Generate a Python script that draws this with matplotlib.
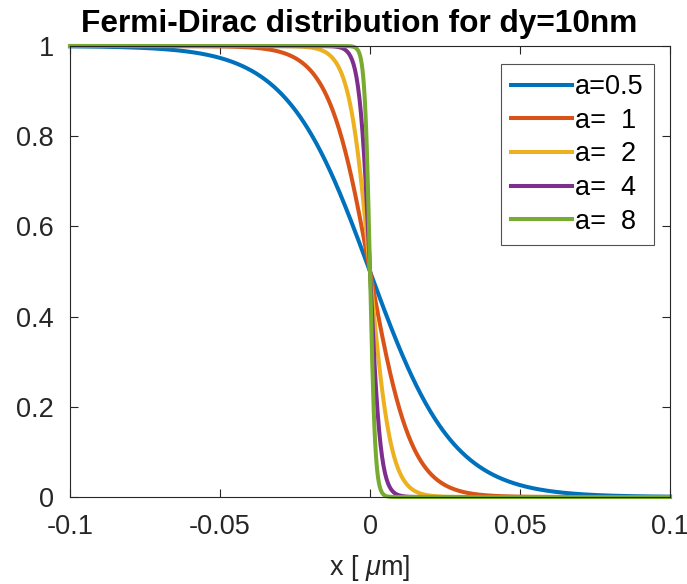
import matplotlib
matplotlib.use("Agg")
import matplotlib.pyplot as plt
import numpy as np

plt.rcParams['font.family'] = ['Liberation Sans', 'DejaVu Sans']
plt.rcParams['axes.unicode_minus'] = False
plt.rcParams['mathtext.fontset'] = 'custom'
plt.rcParams['mathtext.it'] = 'Liberation Sans:italic'
plt.rcParams['mathtext.rm'] = 'Liberation Sans'

# Fermi-Dirac step 1/(1+exp(a*x/(dy*ln2))) for several steepness values
dy = 0.01  # um (10 nm)
a_values = [0.5, 1, 2, 4, 8]
labels = ['a=0.5', 'a=  1', 'a=  2', 'a=  4', 'a=  8']
colors = ['#0072BD', '#D95319', '#EDB120', '#7E2F8E', '#77AC30']
x_ticks = [-0.1, -0.05, 0, 0.05, 0.1]
x_ticklabels = ['-0.1', '-0.05', '0', '0.05', '0.1']
y_ticks = [0, 0.2, 0.4, 0.6, 0.8, 1]
y_ticklabels = ['0', '0.2', '0.4', '0.6', '0.8', '1']

x = np.linspace(-0.1, 0.1, 801)

fig = plt.figure(figsize=(6.87, 5.84), dpi=100)
ax = fig.add_axes([70/687, 87/584, 600/687, 451/584])

for a, lab, c in zip(a_values, labels, colors):
    f = 1.0 / (1.0 + np.exp(a * x / (dy * np.log(2))))
    ax.plot(x, f, color=c, lw=2.9, label=lab, solid_joinstyle='round',
            clip_on=False)

fs = 19.5
ax.set_xlim(-0.1, 0.1)
ax.set_ylim(0, 1)
ax.set_xticks(x_ticks)
ax.set_xticklabels(x_ticklabels, fontsize=fs)
ax.set_yticks(y_ticks)
ax.set_yticklabels(y_ticklabels, fontsize=fs)
ax.tick_params(direction='in', length=6, width=0.8, color='#262626',
               top=True, right=True, labelcolor='#262626')
ax.tick_params(axis='x', pad=12)
ax.tick_params(axis='y', pad=11.5)
for s in ax.spines.values():
    s.set_color('#262626')
    s.set_linewidth(0.8)

title = ax.set_title('Fermi-Dirac distribution for dy=10nm', fontsize=22.8,
                     fontweight='bold', pad=10)
title.set_x(0.482)
ax.set_xlabel(r'x [ $\mu$m]', fontsize=fs, color='#262626', labelpad=9.5)

leg = ax.legend(loc='upper right', fontsize=fs, frameon=True,
                fancybox=False, edgecolor='#262626', handlelength=2.25,
                handletextpad=0.12, labelspacing=0.28, borderpad=0.38,
                borderaxespad=0)
leg.get_frame().set_linewidth(0.8)
leg.set_bbox_to_anchor((654/687, 1 - 64/584), transform=fig.transFigure)

fig.savefig('out.png', dpi=100)
